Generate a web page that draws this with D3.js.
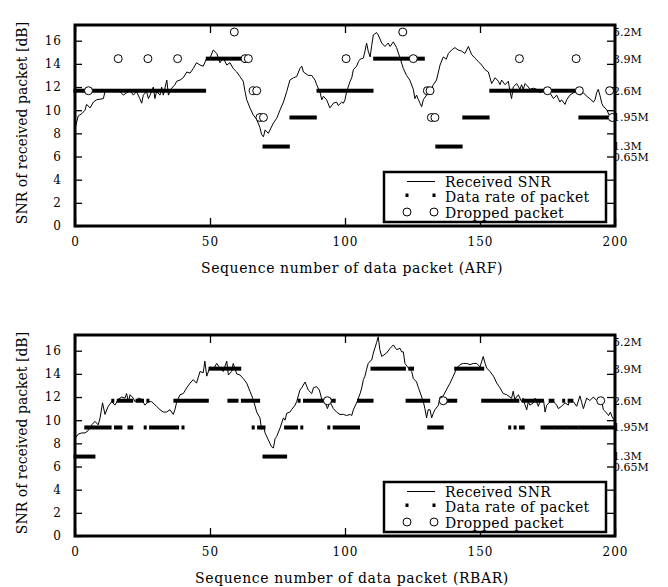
<!DOCTYPE html>
<html>
<head>
<meta charset="utf-8">
<script src="https://cdn.jsdelivr.net/npm/d3@7"></script>
<style>
  body { margin: 0; background: #fff; }
  svg { display: block; font-family: "DejaVu Serif", serif; }
</style>
</head>
<body>
<svg id="chart"></svg>
<script>
// rate levels, placed on the SNR axis (dB) where the right-hand labels sit
const rateNames = ["5.2M", "3.9M", "2.6M", "1.95M", "1.3M", "0.65M"];
const rateLevels = [16.75, 14.45, 11.68, 9.37, 6.86, 5.91];
const yTicks = [0, 2, 4, 6, 8, 10, 12, 14, 16];
const xTicks = [0, 50, 100, 150, 200];
const legendItems = ["Received SNR", "Data rate of packet", "Dropped packet"];

// ARF run: received SNR per packet
const arfSeq = [0,1.2,2.5,3.7,4.3,5.6,6.8,8,10.5,11.1,13,14.2,16.7,17.9,19.1,20.4,21.6,22.8,24,24.7,25.3,26.5,27.2,27.8,29,29.6,30.2,31.5,32.1,32.7,34,34.6,35.8,37,37.7,38.9,40.1,41.4,42.6,43.8,45,46.3,47.5,48.8,50,51.2,52.5,53.7,54.9,56.2,57.4,58.6,59.9,61.1,62.3,63,63.6,64.8,66,67.3,68.5,69.1,69.8,70.4,71.6,73.5,74.7,75.9,77.2,78.4,79.6,80.9,82.1,83.3,84,84.6,85.2,86.4,87.7,88.9,89.5,90.7,91.4,92,93.2,94.4,95.7,96.9,97.5,98.8,99.4,100,100.6,101.9,102.5,103.1,104.3,105,105.6,106.8,107.4,108,108.6,109.3,109.9,110.5,111.7,112.3,113.6,114.8,116,116.7,117.9,119.1,120.4,121.6,122.8,124,125.3,125.9,126.5,127.2,127.8,128.4,129,130.2,131.5,132.7,133.9,134.6,135.2,136.4,137.5,138.3,139.5,140.7,141.9,143.2,144.4,145.7,146.9,148.1,149.4,150.6,151.9,153.1,153.7,154.3,155.6,156.8,157.4,158,159.3,160.5,161.1,161.7,162.3,163.6,164.8,165.4,166,166.7,167.9,168.5,169.8,171,172.2,173.5,174.7,175.9,177.2,178.4,179.6,180.2,181.5,182.1,183.3,184.6,185.8,187,188.3,189.5,190.7,192,192.6,193.2,193.8,194.4,195.1,195.7,196.3,197,197.8,198.4,200];
const arfSnr = [8.4,9.5,9.7,10.0,10.5,10.2,10.7,10.9,11.0,11.6,11.8,11.7,11.6,11.3,11.5,11.7,11.3,11.6,11.0,10.6,11.3,11.6,11.0,11.3,12.0,11.0,11.6,11.3,12.0,11.3,12.6,11.3,11.9,12.2,12.5,12.6,12.8,13.3,13.2,13.6,14.1,13.9,13.8,14.5,14.5,15.2,14.9,14.1,14.5,13.9,14.1,13.6,13.3,12.9,12.5,11.6,10.9,10.2,9.6,9.2,8.5,7.9,7.7,8.3,8.0,8.9,9.3,10.0,10.7,11.6,12.6,12.8,12.9,13.6,13.8,13.3,13.2,13.0,13.0,12.6,12.2,11.6,10.9,11.2,10.9,10.2,10.6,10.7,10.4,10.7,10.6,10.9,11.6,12.5,12.8,13.5,13.8,14.2,14.4,14.5,15.1,15.8,15.1,14.6,15.6,16.5,16.7,16.5,15.8,15.5,15.8,15.5,15.9,15.4,14.5,13.6,13.0,12.6,11.8,11.0,11.3,10.9,10.6,10.3,10.9,11.3,11.6,12.2,12.6,13.3,13.9,14.6,14.4,14.9,15.2,15.4,15.2,15.1,14.9,15.5,14.8,14.5,14.2,13.9,13.5,13.3,12.8,12.3,12.8,12.5,12.2,12.6,12.2,12.5,11.6,11.0,12.0,12.3,11.8,12.2,11.8,12.3,12.0,11.8,11.9,11.8,11.5,11.8,11.6,11.5,11.0,11.3,10.7,10.9,10.5,10.9,11.3,11.5,11.6,11.3,11.5,11.2,11.0,10.7,10.9,11.5,11.8,11.3,10.6,10.3,10.2,10.0,9.6,9.5,9.3];
// ARF: runs of packets sent at one rate [first, last, rate]
const arfRuns = [[0,48,"2.6M"],[49,62,"3.9M"],[70,79,"1.3M"],[80,89,"1.95M"],[90,110,"2.6M"],[111,129,"3.9M"],[134,143,"1.3M"],[144,153,"1.95M"],[154,186,"2.6M"],[187,197,"1.95M"]];
const arfDropSeq = [5,16,27,38,59,63,64.2,66,67.3,68.5,69.8,100.4,121.4,125.3,130.5,131.5,132,133.3,164.6,175,185.6,186.8,198,199];
const arfDropRate = ["2.6M","3.9M","3.9M","3.9M","5.2M","3.9M","3.9M","2.6M","2.6M","1.95M","1.95M","3.9M","5.2M","3.9M","2.6M","2.6M","1.95M","1.95M","3.9M","2.6M","3.9M","2.6M","2.6M","1.95M"];

// RBAR run
const rbarSeq = [0,1.2,2.5,3.7,4.9,6.2,7.4,8.6,9.3,10.2,11.1,12.3,13.6,14.8,16,17.3,18.5,19.1,19.8,20.4,21.6,22.2,23.5,24.7,25.9,27.2,28.4,30.2,31.5,32.7,33.9,35.2,36.4,37,37.7,38.3,38.9,40.1,41.4,42.6,43.8,45,46.3,47.5,48.1,48.8,50,51.2,52.5,53.7,54.9,56.2,56.8,58,58.6,59.9,61.1,62.3,63.6,64.8,66,67.3,68.5,69.1,69.8,70.4,71.6,72.8,73.5,74.1,74.7,75.9,77.2,77.8,78.4,79.6,80.2,81.5,82.1,83.3,84,85.2,86.4,87.7,88.3,89.5,90.5,91.4,92.6,93.5,94.4,95.7,96.9,98.1,99.4,100.6,101.9,102.5,103.1,104.3,105.6,106.2,106.8,107.4,108,108.6,109.3,109.9,110.5,111.7,112.3,112.9,113.6,114.8,115.4,116.7,117.9,119.1,120.4,121,121.6,122.2,123.5,124.7,125.3,126.5,127.2,128.4,129,129.6,130.2,130.8,131.5,132.1,132.7,133.3,134.6,135.2,136.4,137.5,138.9,140.1,141.4,142.6,143.8,145.1,146.3,147.5,148.8,150,151.2,151.9,152.5,153.7,155,156.2,157.4,158.6,159.9,161.1,161.7,162.3,162.9,164.2,165.4,166,166.7,167.3,167.9,168.5,169.8,170.4,171.6,172.2,173.5,174.1,174.7,176,177.2,178.4,179,180.2,181.5,182.7,183.3,184.6,185.8,187,187.7,188.3,189.5,190.7,192,193.2,194.4,195.1,195.7,197,197.6,198.3,198.9,200];
const rbarSnr = [8.4,8.8,8.9,8.9,9.1,9.6,9.9,9.6,10.2,11.5,10.5,11.2,11.6,11.3,11.8,12.0,11.9,12.3,11.6,12.2,11.9,11.6,11.9,11.8,11.3,11.6,11.6,11.2,10.9,10.7,10.7,10.9,10.5,10.9,11.6,11.9,12.2,12.3,12.8,13.2,13.5,13.2,14.2,14.1,15.1,13.8,14.6,14.4,14.9,14.5,14.2,15.1,13.9,14.2,14.9,14.0,13.9,13.6,13.2,12.5,11.8,10.7,10.2,9.2,9.5,8.9,8.3,7.7,7.6,8.4,8.6,9.3,10.2,10.0,10.6,10.7,10.9,11.3,11.6,12.6,12.8,13.3,12.6,12.3,12.8,12.9,12.6,11.8,11.6,11.0,11.6,11.0,10.7,10.5,10.5,10.4,10.5,10.4,10.9,11.5,12.3,12.8,13.5,13.8,14.4,14.9,15.1,15.2,15.8,16.7,17.2,16.1,15.5,15.7,15.8,16.2,16.5,16.1,16.2,15.9,15.9,14.9,14.5,14.2,13.6,13.3,12.8,12.0,11.6,11.0,10.2,10.9,10.9,10.2,10.6,10.9,11.3,12.0,12.1,12.6,13.2,13.8,14.5,14.8,14.9,14.9,14.8,14.9,14.9,14.6,15.5,14.9,14.5,14.2,13.8,13.2,12.8,12.3,12.2,12.0,11.9,12.5,11.8,12.2,11.6,11.9,11.3,10.9,11.6,11.3,11.5,11.9,11.2,11.6,11.8,10.7,11.3,11.6,11.6,11.3,11.0,11.2,11.5,11.3,11.8,11.6,11.2,12.1,11.5,11.0,11.9,11.7,12.0,11.7,11.6,11.6,10.9,10.6,10.4,10.7,10.3,9.9];
const rbarRuns = [[0,7,"1.3M"],[70,78,"1.3M"],
  [4,4,"1.95M"],[5,13,"1.95M"],[15,17,"1.95M"],[20,21,"1.95M"],[26,26,"1.95M"],[28,37,"1.95M"],[38,38,"1.95M"],[40,40,"1.95M"],[66,66,"1.95M"],[68,70,"1.95M"],[78,82,"1.95M"],[84,84,"1.95M"],[94,94,"1.95M"],[96,105,"1.95M"],[131,136,"1.95M"],[161,161,"1.95M"],[163,163,"1.95M"],[165,166,"1.95M"],[173,177,"1.95M"],[178,182,"1.95M"],[183,186,"1.95M"],[187,194,"1.95M"],[195,200,"1.95M"],
  [14,14,"2.6M"],[16,21,"2.6M"],[23,25,"2.6M"],[27,27,"2.6M"],[37,49,"2.6M"],[57,60,"2.6M"],[62,68,"2.6M"],[83,83,"2.6M"],[85,92,"2.6M"],[95,96,"2.6M"],[105,110,"2.6M"],[123,124,"2.6M"],[125,131,"2.6M"],[138,141,"2.6M"],[151,161,"2.6M"],[162,164,"2.6M"],[166,173,"2.6M"],[176,177,"2.6M"],[181,181,"2.6M"],[183,184,"2.6M"],
  [50,61,"3.9M"],[110,122,"3.9M"],[124,125,"3.9M"],[141,151,"3.9M"]];
const rbarDropSeq = [93.5,136.4,194.7];
const rbarDropRate = ["2.6M","2.6M","2.6M"];

const width = 668, height = 587;
const svg = d3.select("#chart").attr("width", width).attr("height", height);

const x = d3.scaleLinear().domain([0, 200]).range([75, 615]);
const rateY = (name) => rateLevels[rateNames.indexOf(name)];

const panels = [
  {top: 25, bottom: 226, title: "Sequence number of data packet (ARF)", seq: arfSeq, snr: arfSnr, runs: arfRuns, dropSeq: arfDropSeq, dropRate: arfDropRate},
  {top: 335, bottom: 536, title: "Sequence number of data packet (RBAR)", seq: rbarSeq, snr: rbarSnr, runs: rbarRuns, dropSeq: rbarDropSeq, dropRate: rbarDropRate}
];

panels.forEach((p) => {
  const y = d3.scaleLinear().domain([0, 16]).range([p.bottom, p.bottom - 185.3]);
  const g = svg.append("g");

  // axes, ticks pointing inward
  g.append("g").attr("transform", `translate(75,0)`)
    .call(d3.axisLeft(y).tickValues(yTicks).tickSize(-7).tickPadding(13))
    .call((a) => a.select(".domain").remove());
  g.append("g").attr("transform", `translate(615,0)`)
    .call(d3.axisRight(y).tickValues(yTicks).tickSize(-8).tickFormat(""))
    .call((a) => a.select(".domain").remove());
  g.append("g").attr("transform", `translate(0,${p.bottom})`)
    .call(d3.axisBottom(x).tickValues(xTicks).tickSize(-8).tickPadding(11))
    .call((a) => a.select(".domain").remove());
  g.append("g").attr("transform", `translate(0,${p.top})`)
    .call(d3.axisTop(x).tickValues(xTicks).tickSize(-8).tickFormat(""))
    .call((a) => a.select(".domain").remove());
  g.selectAll(".tick line").attr("stroke", "#000").attr("stroke-width", 1.3);
  g.selectAll(".tick text").attr("fill", "#000").style("font-family", "DejaVu Serif")
    .style("font-size", "12px").style("letter-spacing", "1px");

  // rate labels on the right
  g.selectAll(".rate").data(rateNames).join("text")
    .attr("x", 613).attr("y", (d) => y(rateY(d))).attr("dy", "0.35em")
    .style("font-size", "11px").text((d) => d);

  // received SNR
  g.append("path")
    .datum(p.seq.map((s, i) => [s, p.snr[i]]))
    .attr("fill", "none").attr("stroke", "#000").attr("stroke-width", 1)
    .attr("d", d3.line().x((d) => x(d[0])).y((d) => y(d[1])));

  // data rate of packet
  g.selectAll(".run").data(p.runs).join("rect")
    .attr("x", (d) => x(d[0]) - 1.5)
    .attr("width", (d) => x(d[1]) - x(d[0]) + 3)
    .attr("y", (d) => y(rateY(d[2])) - 2)
    .attr("height", 4).attr("fill", "#000");

  // dropped packets
  g.selectAll(".drop").data(p.dropSeq).join("circle")
    .attr("cx", (d) => x(d)).attr("cy", (d, i) => y(rateY(p.dropRate[i])))
    .attr("r", 4).attr("fill", "#fff").attr("stroke", "#000").attr("stroke-width", 1);

  // legend
  const lg = g.append("g").attr("transform", `translate(0,${p.top})`);
  lg.append("rect").attr("x", 384).attr("y", 147).attr("width", 222).attr("height", 50)
    .attr("fill", "#fff").attr("stroke", "#000").attr("stroke-width", 2.5);
  lg.append("line").attr("x1", 407).attr("x2", 435).attr("y1", 156.5).attr("y2", 156.5)
    .attr("stroke", "#000").attr("stroke-width", 1);
  [407, 434].forEach((cx) => {
    lg.append("rect").attr("x", cx - 1.5).attr("y", 168.5).attr("width", 3).attr("height", 3.5).attr("fill", "#000");
    lg.append("circle").attr("cx", cx).attr("cy", 187).attr("r", 4)
      .attr("fill", "#fff").attr("stroke", "#000");
  });
  lg.selectAll(".lt").data(legendItems).join("text")
    .attr("x", 445).attr("y", (d, i) => 157 + i * 15.5).attr("dy", "0.35em")
    .style("font-size", "14px").style("letter-spacing", "0.4px").text((d) => d);

  // frame
  g.append("rect").attr("x", 75).attr("y", p.top).attr("width", 540).attr("height", p.bottom - p.top)
    .attr("fill", "none").attr("stroke", "#000").attr("stroke-width", 3);

  // axis titles
  g.append("text").attr("x", 352).attr("y", p.bottom + 42).attr("dy", "0.35em")
    .attr("text-anchor", "middle").style("font-size", "14px").style("letter-spacing", "0.6px")
    .text(p.title);
  g.append("text")
    .attr("transform", `translate(22,${p.top + 98}) rotate(-90)`)
    .attr("dy", "0.35em").attr("text-anchor", "middle").style("font-size", "14px")
    .text("SNR of received packet [dB]");
});
</script>
</body>
</html>
